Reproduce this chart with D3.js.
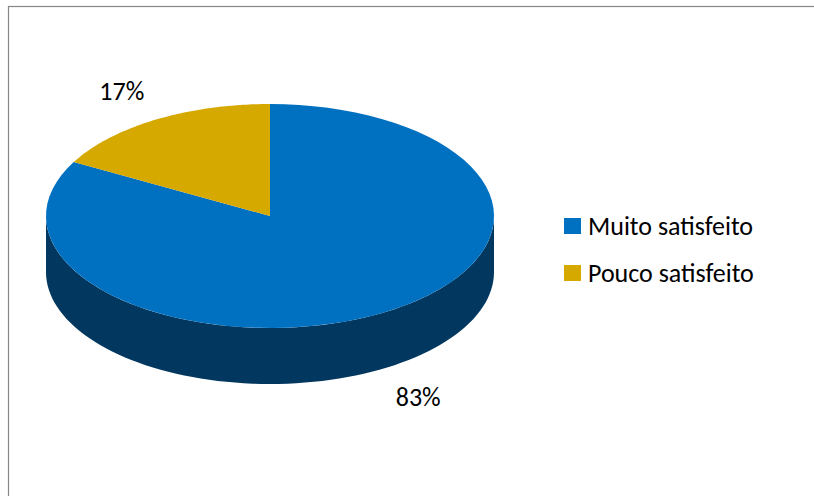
<!DOCTYPE html>
<html>
<head>
<meta charset="utf-8">
<script src="https://cdn.jsdelivr.net/npm/d3@7"></script>
<style>
  body { margin: 0; background: #fff; }
  text { font-family: Carlito, Lato, sans-serif; fill: #000; }
</style>
</head>
<body>
<svg width="814" height="496"></svg>
<script>
// chart data
const categories = ["Muito satisfeito", "Pouco satisfeito"];
const values = [83, 17];
const labels = ["83%", "17%"];
const topColors = ["#0070C0", "#D5A900"];
const sideColors = ["#02375F", "#6b5500"];

var svg = d3.select("svg");

// chart frame (only top + left edges show in the window)
svg.append("rect")
    .attr("x", 8.5).attr("y", 6.5)
    .attr("width", 900).attr("height", 600)
    .style("fill", "none")
    .style("stroke", "#868686")
    .style("stroke-width", 1.2);

// pie geometry
var cx = 270, cy = 216, rx = 224, ry = 112, depth = 56;

var pie = d3.pie().sort(null).value(function(d) { return d; });
var arcs = pie(values);

// point on the ellipse, angle measured clockwise from 12 o'clock
function pt(a, k, dy) {
  k = k || 1; dy = dy || 0;
  return [cx + rx * k * Math.sin(a), cy - ry * k * Math.cos(a) + dy];
}

function topPath(d) {
  var p = d3.path();
  p.moveTo(cx, cy);
  var s = pt(d.startAngle);
  p.lineTo(s[0], s[1]);
  var n = 80;
  for (var i = 1; i <= n; i++) {
    var a = d.startAngle + (d.endAngle - d.startAngle) * i / n;
    var q = pt(a);
    p.lineTo(q[0], q[1]);
  }
  p.closePath();
  return p.toString();
}

// side wall only for the front half (PI/2 .. 3PI/2)
function sidePath(d) {
  var a0 = Math.max(d.startAngle, Math.PI / 2);
  var a1 = Math.min(d.endAngle, Math.PI * 1.5);
  if (a1 <= a0) return null;
  var n = 80, pts = [], i, a;
  for (i = 0; i <= n; i++) {
    a = a0 + (a1 - a0) * i / n;
    pts.push(pt(a));
  }
  for (i = n; i >= 0; i--) {
    a = a0 + (a1 - a0) * i / n;
    pts.push(pt(a, 1, depth));
  }
  return d3.line()(pts) + "Z";
}

var g = svg.append("g");

g.selectAll("path.side")
    .data(arcs.filter(function(d) { return sidePath(d); }))
    .enter().append("path")
    .attr("class", "side")
    .attr("d", sidePath)
    .style("fill", function(d) { return sideColors[d.index]; });

g.selectAll("path.top")
    .data(arcs)
    .enter().append("path")
    .attr("class", "top")
    .attr("d", topPath)
    .style("fill", function(d) { return topColors[d.index]; });

// percentage labels outside the slices
g.selectAll("text.lbl")
    .data(arcs)
    .enter().append("text")
    .attr("class", "lbl")
    .attr("text-anchor", "middle")
    .attr("dominant-baseline", "central")
    .style("font-size", "26px")
    .attr("x", function(d) { return pt((d.startAngle + d.endAngle) / 2, 1.3)[0]; })
    .attr("y", function(d) {
      var m = (d.startAngle + d.endAngle) / 2;
      var front = Math.cos(m) < 0;
      return pt(m, 1.3, front ? depth : 0)[1];
    })
    .text(function(d) { return labels[d.index]; });

// legend
var legend = svg.append("g").attr("transform", "translate(564,218)");
var item = legend.selectAll("g")
    .data(categories)
    .enter().append("g")
    .attr("transform", function(d, i) { return "translate(0," + i * 47 + ")"; });

item.append("rect")
    .attr("width", 17).attr("height", 16)
    .style("fill", function(d, i) { return topColors[i]; });

item.append("text")
    .attr("x", 24).attr("y", 17)
    .style("font-size", "26px")
    .text(function(d) { return d; });
</script>
</body>
</html>
